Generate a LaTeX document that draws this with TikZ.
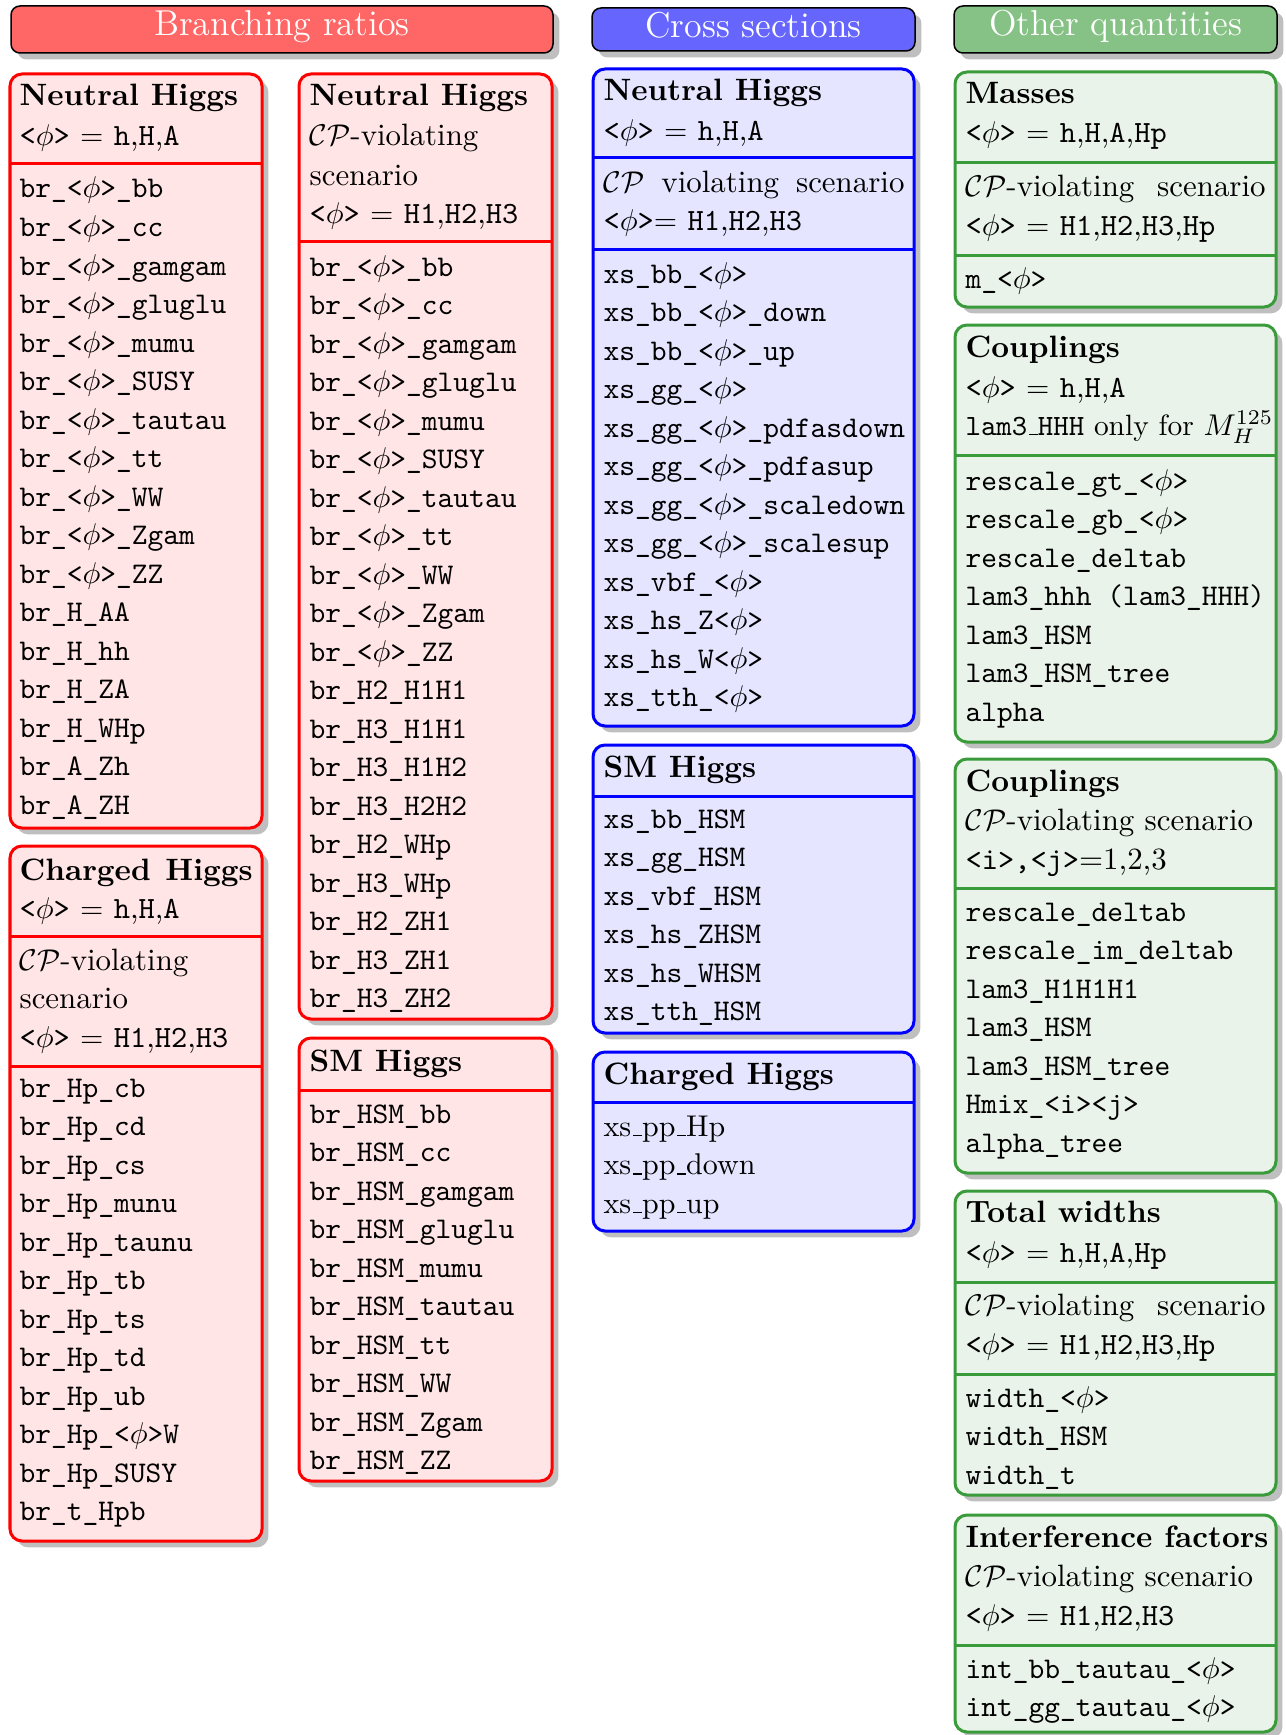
\documentclass[tikz,border=0pt]{standalone}
\usetikzlibrary{shadows}
\definecolor{gline}{RGB}{58,155,58}
\definecolor{gfill}{RGB}{234,243,234}
\definecolor{ghead}{RGB}{134,194,134}
\newcommand\phb{{\ttfamily<}$\phi${\ttfamily>}}
\newcommand\tx[1]{{\ttfamily #1}}
\newcommand\CPm{$\mathcal{CP}$}
\newcommand\ru{\leavevmode\kern.06em\vbox{\hrule width.3em}}
\newcommand\panelbox[6]{\draw[#2] (#3,#4) coordinate (#1-nw) rectangle (#5,#6) coordinate (#1-se);}
\newcommand\divline[5]{\draw[#2, line width=1pt] (#3,#5) coordinate (#1-l) -- (#4,#5) coordinate (#1-r);}
\newcommand\itemcol[5]{\foreach \t [count=\i from 0] in {#5} {\node[#2] (#1\i) at (#3,{#4+38.5*\i}) {\t};}}
\tikzset{
 panel/.style={rounded corners=4pt, line width=1pt, drop shadow},
 redpanel/.style={panel, draw=red, fill=red!10},
 bluepanel/.style={panel, draw=blue, fill=blue!10},
 greenpanel/.style={panel, draw=gline, fill=gfill},
 headbox/.style={rounded corners=3pt, draw=black, line width=0.5pt, drop shadow},
 htext/.style={anchor=base, inner sep=0pt, text=white, font=\fontsize{12}{14}\selectfont},
 ttl/.style={anchor=base west, inner sep=0pt, font=\fontsize{10.3}{12}\selectfont\bfseries},
 sub/.style={anchor=base west, inner sep=0pt, font=\fontsize{10.3}{12}\selectfont},
 itm/.style={anchor=base west, inner sep=0pt, font=\fontsize{10}{12}\selectfont\ttfamily},
 rmitm/.style={anchor=base west, inner sep=0pt, font=\fontsize{10}{12}\selectfont},
}
\begin{document}
\begin{tikzpicture}[x=0.3333pt, y=-0.3333pt]
\useasboundingbox (0,0) rectangle (1285,1735);
% ---------- headers ----------
\draw[headbox, fill=red!60] (11,6) coordinate (hb-nw) rectangle (553,53) coordinate (hb-se);
\node[htext] (hbt) at (282,36) {Branching ratios};
\draw[headbox, fill=blue!60] (592,8) coordinate (hc-nw) rectangle (915,51) coordinate (hc-se);
\node[htext] (hct) at (753.5,38) {Cross sections};
\draw[headbox, fill=ghead] (954,6) coordinate (ho-nw) rectangle (1277,53) coordinate (ho-se);
\node[htext] (hot) at (1115.5,36) {Other quantities};
% ---------- column 1 ----------
\panelbox{A}{redpanel}{10}{74}{262}{828}
\node[ttl] (At) at (19,106) {Neutral Higgs};
\node[sub] (As) at (19,146) {\phb\ $=$ \tx{h},\tx{H},\tx{A}};
\divline{Ad}{red}{10}{262}{164}
\itemcol{Ai}{itm}{19}{198}{br\_\phb\_bb,br\_\phb\_cc,br\_\phb\_gamgam,br\_\phb\_gluglu,br\_\phb\_mumu,br\_\phb\_SUSY,br\_\phb\_tautau,br\_\phb\_tt,br\_\phb\_WW,br\_\phb\_Zgam,br\_\phb\_ZZ,br\_H\_AA,br\_H\_hh,br\_H\_ZA,br\_H\_WHp,br\_A\_Zh,br\_A\_ZH}

\panelbox{B}{redpanel}{10}{846}{262}{1541}
\node[ttl] (Bt) at (19,880) {\makebox[77.7pt][s]{Charged Higgs}};
\node[sub] (Bs) at (19,918) {\phb\ $=$ \tx{h},\tx{H},\tx{A}};
\divline{Bd1}{red}{10}{262}{936}
\node[sub] (Bc1) at (19,970) {\CPm-violating};
\node[sub] (Bc2) at (19,1008) {scenario};
\node[sub] (Bc3) at (19,1047) {\phb\ $=$ \tx{H1},\tx{H2},\tx{H3}};
\divline{Bd2}{red}{10}{262}{1066}
\itemcol{Bi}{itm}{19}{1097}{br\_Hp\_cb,br\_Hp\_cd,br\_Hp\_cs,br\_Hp\_munu,br\_Hp\_taunu,br\_Hp\_tb,br\_Hp\_ts,br\_Hp\_td,br\_Hp\_ub,br\_Hp\_\phb W,br\_Hp\_SUSY,br\_t\_Hpb}
% ---------- column 2 ----------
\panelbox{C}{redpanel}{299}{74}{552}{1019}
\node[ttl] (Ct) at (309,106) {Neutral Higgs};
\node[sub] (Cc1) at (309,146) {\CPm-violating};
\node[sub] (Cc2) at (309,185) {scenario};
\node[sub] (Cc3) at (309,223) {\phb\ $=$ \tx{H1},\tx{H2},\tx{H3}};
\divline{Cd}{red}{299}{552}{241}
\itemcol{Ci}{itm}{309}{276}{br\_\phb\_bb,br\_\phb\_cc,br\_\phb\_gamgam,br\_\phb\_gluglu,br\_\phb\_mumu,br\_\phb\_SUSY,br\_\phb\_tautau,br\_\phb\_tt,br\_\phb\_WW,br\_\phb\_Zgam,br\_\phb\_ZZ,br\_H2\_H1H1,br\_H3\_H1H1,br\_H3\_H1H2,br\_H3\_H2H2,br\_H2\_WHp,br\_H3\_WHp,br\_H2\_ZH1,br\_H3\_ZH1,br\_H3\_ZH2}

\panelbox{D}{redpanel}{299}{1038}{552}{1481}
\node[ttl] (Dt) at (309,1071) {SM Higgs};
\divline{Dd}{red}{299}{552}{1090}
\itemcol{Di}{itm}{309}{1123}{br\_HSM\_bb,br\_HSM\_cc,br\_HSM\_gamgam,br\_HSM\_gluglu,br\_HSM\_mumu,br\_HSM\_tautau,br\_HSM\_tt,br\_HSM\_WW,br\_HSM\_Zgam,br\_HSM\_ZZ}
% ---------- column 3 ----------
\panelbox{E}{bluepanel}{593}{69}{914}{726}
\node[ttl] (Et) at (603,101) {Neutral Higgs};
\node[sub] (Es) at (603,141) {\phb\ $=$ \tx{h},\tx{H},\tx{A}};
\divline{Ed1}{blue}{593}{914}{158}
\node[sub] (Ec1) at (603,193) {\makebox[100.3pt][s]{\CPm\ violating scenario}};
\node[sub] (Ec2) at (603,230) {\phb$=$ \tx{H1},\tx{H2},\tx{H3}};
\divline{Ed2}{blue}{593}{914}{249}
\itemcol{Ei}{itm}{603}{283}{xs\_bb\_\phb,xs\_bb\_\phb\_down,xs\_bb\_\phb\_up,xs\_gg\_\phb,xs\_gg\_\phb\_pdfasdown,xs\_gg\_\phb\_pdfasup,xs\_gg\_\phb\_scaledown,xs\_gg\_\phb\_scalesup,xs\_vbf\_\phb,xs\_hs\_Z\phb,xs\_hs\_W\phb,xs\_tth\_\phb}

\panelbox{F}{bluepanel}{593}{745}{914}{1033}
\node[ttl] (Ft) at (603,777) {SM Higgs};
\divline{Fd}{blue}{593}{914}{796}
\itemcol{Fi}{itm}{603}{828}{xs\_bb\_HSM,xs\_gg\_HSM,xs\_vbf\_HSM,xs\_hs\_ZHSM,xs\_hs\_WHSM,xs\_tth\_HSM}

\panelbox{G}{bluepanel}{593}{1052}{914}{1231}
\node[ttl] (Gt) at (603,1084) {Charged Higgs};
\divline{Gd}{blue}{593}{914}{1102}
\itemcol{Gi}{rmitm}{603}{1136}{xs\ru pp\ru Hp,xs\ru pp\ru down,xs\ru pp\ru up}
% ---------- column 4 ----------
\panelbox{H}{greenpanel}{955}{72}{1276}{307}
\node[ttl] (Ht) at (965,104) {Masses};
\node[sub] (Hs) at (965,143) {\phb\ $=$ \tx{h},\tx{H},\tx{A},\tx{Hp}};
\divline{Hd1}{gline}{955}{1276}{163}
\node[sub] (Hc1) at (965,197) {\makebox[100pt][s]{\CPm-violating scenario}};
\node[sub] (Hc2) at (965,236) {\phb\ $=$ \tx{H1},\tx{H2},\tx{H3},\tx{Hp}};
\divline{Hd2}{gline}{955}{1276}{255}
\itemcol{Hi}{itm}{965}{288}{m\_\phb}

\panelbox{I}{greenpanel}{955}{325}{1276}{742}
\node[ttl] (It) at (965,357.5) {Couplings};
\node[sub] (Is) at (965,397) {\phb\ $=$ \tx{h},\tx{H},\tx{A}};
\node[sub, font=\fontsize{9.8}{12}\selectfont] (Il) at (965,435) {\tx{lam3\ru HHH} only for $M_H^{125}$};
\divline{Id}{gline}{955}{1276}{455}
\itemcol{Ii}{itm}{965}{490}{rescale\_gt\_\phb,rescale\_gb\_\phb,rescale\_deltab,lam3\_hhh (lam3\_HHH),lam3\_HSM,lam3\_HSM\_tree,alpha}

\panelbox{J}{greenpanel}{955}{759}{1276}{1173}
\node[ttl] (Jt) at (965,791) {Couplings};
\node[sub] (Jc1) at (965,830) {\CPm-violating scenario};
\node[sub] (Jc2) at (965,869) {\tx{<i>,<j>}=1,2,3};
\divline{Jd}{gline}{955}{1276}{888}
\itemcol{Ji}{itm}{965}{921}{rescale\_deltab,rescale\_im\_deltab,lam3\_H1H1H1,lam3\_HSM,lam3\_HSM\_tree,Hmix\_<i><j>,alpha\_tree}

\panelbox{K}{greenpanel}{955}{1191}{1276}{1495}
\node[ttl] (Kt) at (965,1222) {Total widths};
\node[sub] (Ks) at (965,1262) {\phb\ $=$ \tx{h},\tx{H},\tx{A},\tx{Hp}};
\divline{Kd1}{gline}{955}{1276}{1282}
\node[sub] (Kc1) at (965,1315) {\makebox[100pt][s]{\CPm-violating scenario}};
\node[sub] (Kc2) at (965,1354) {\phb\ $=$ \tx{H1},\tx{H2},\tx{H3},\tx{Hp}};
\divline{Kd2}{gline}{955}{1276}{1374}
\itemcol{Ki}{itm}{965}{1407}{width\_\phb,width\_HSM,width\_t}

\panelbox{L}{greenpanel}{955}{1515}{1276}{1732}
\node[ttl] (Lt) at (965,1547) {Interference factors};
\node[sub] (Lc1) at (965,1586) {\CPm-violating scenario};
\node[sub] (Lc2) at (965,1625) {\phb\ $=$ \tx{H1},\tx{H2},\tx{H3}};
\divline{Ld}{gline}{955}{1276}{1645}
\itemcol{Li}{itm}{965}{1678}{int\_bb\_tautau\_\phb,int\_gg\_tautau\_\phb}
\end{tikzpicture}
\end{document}
